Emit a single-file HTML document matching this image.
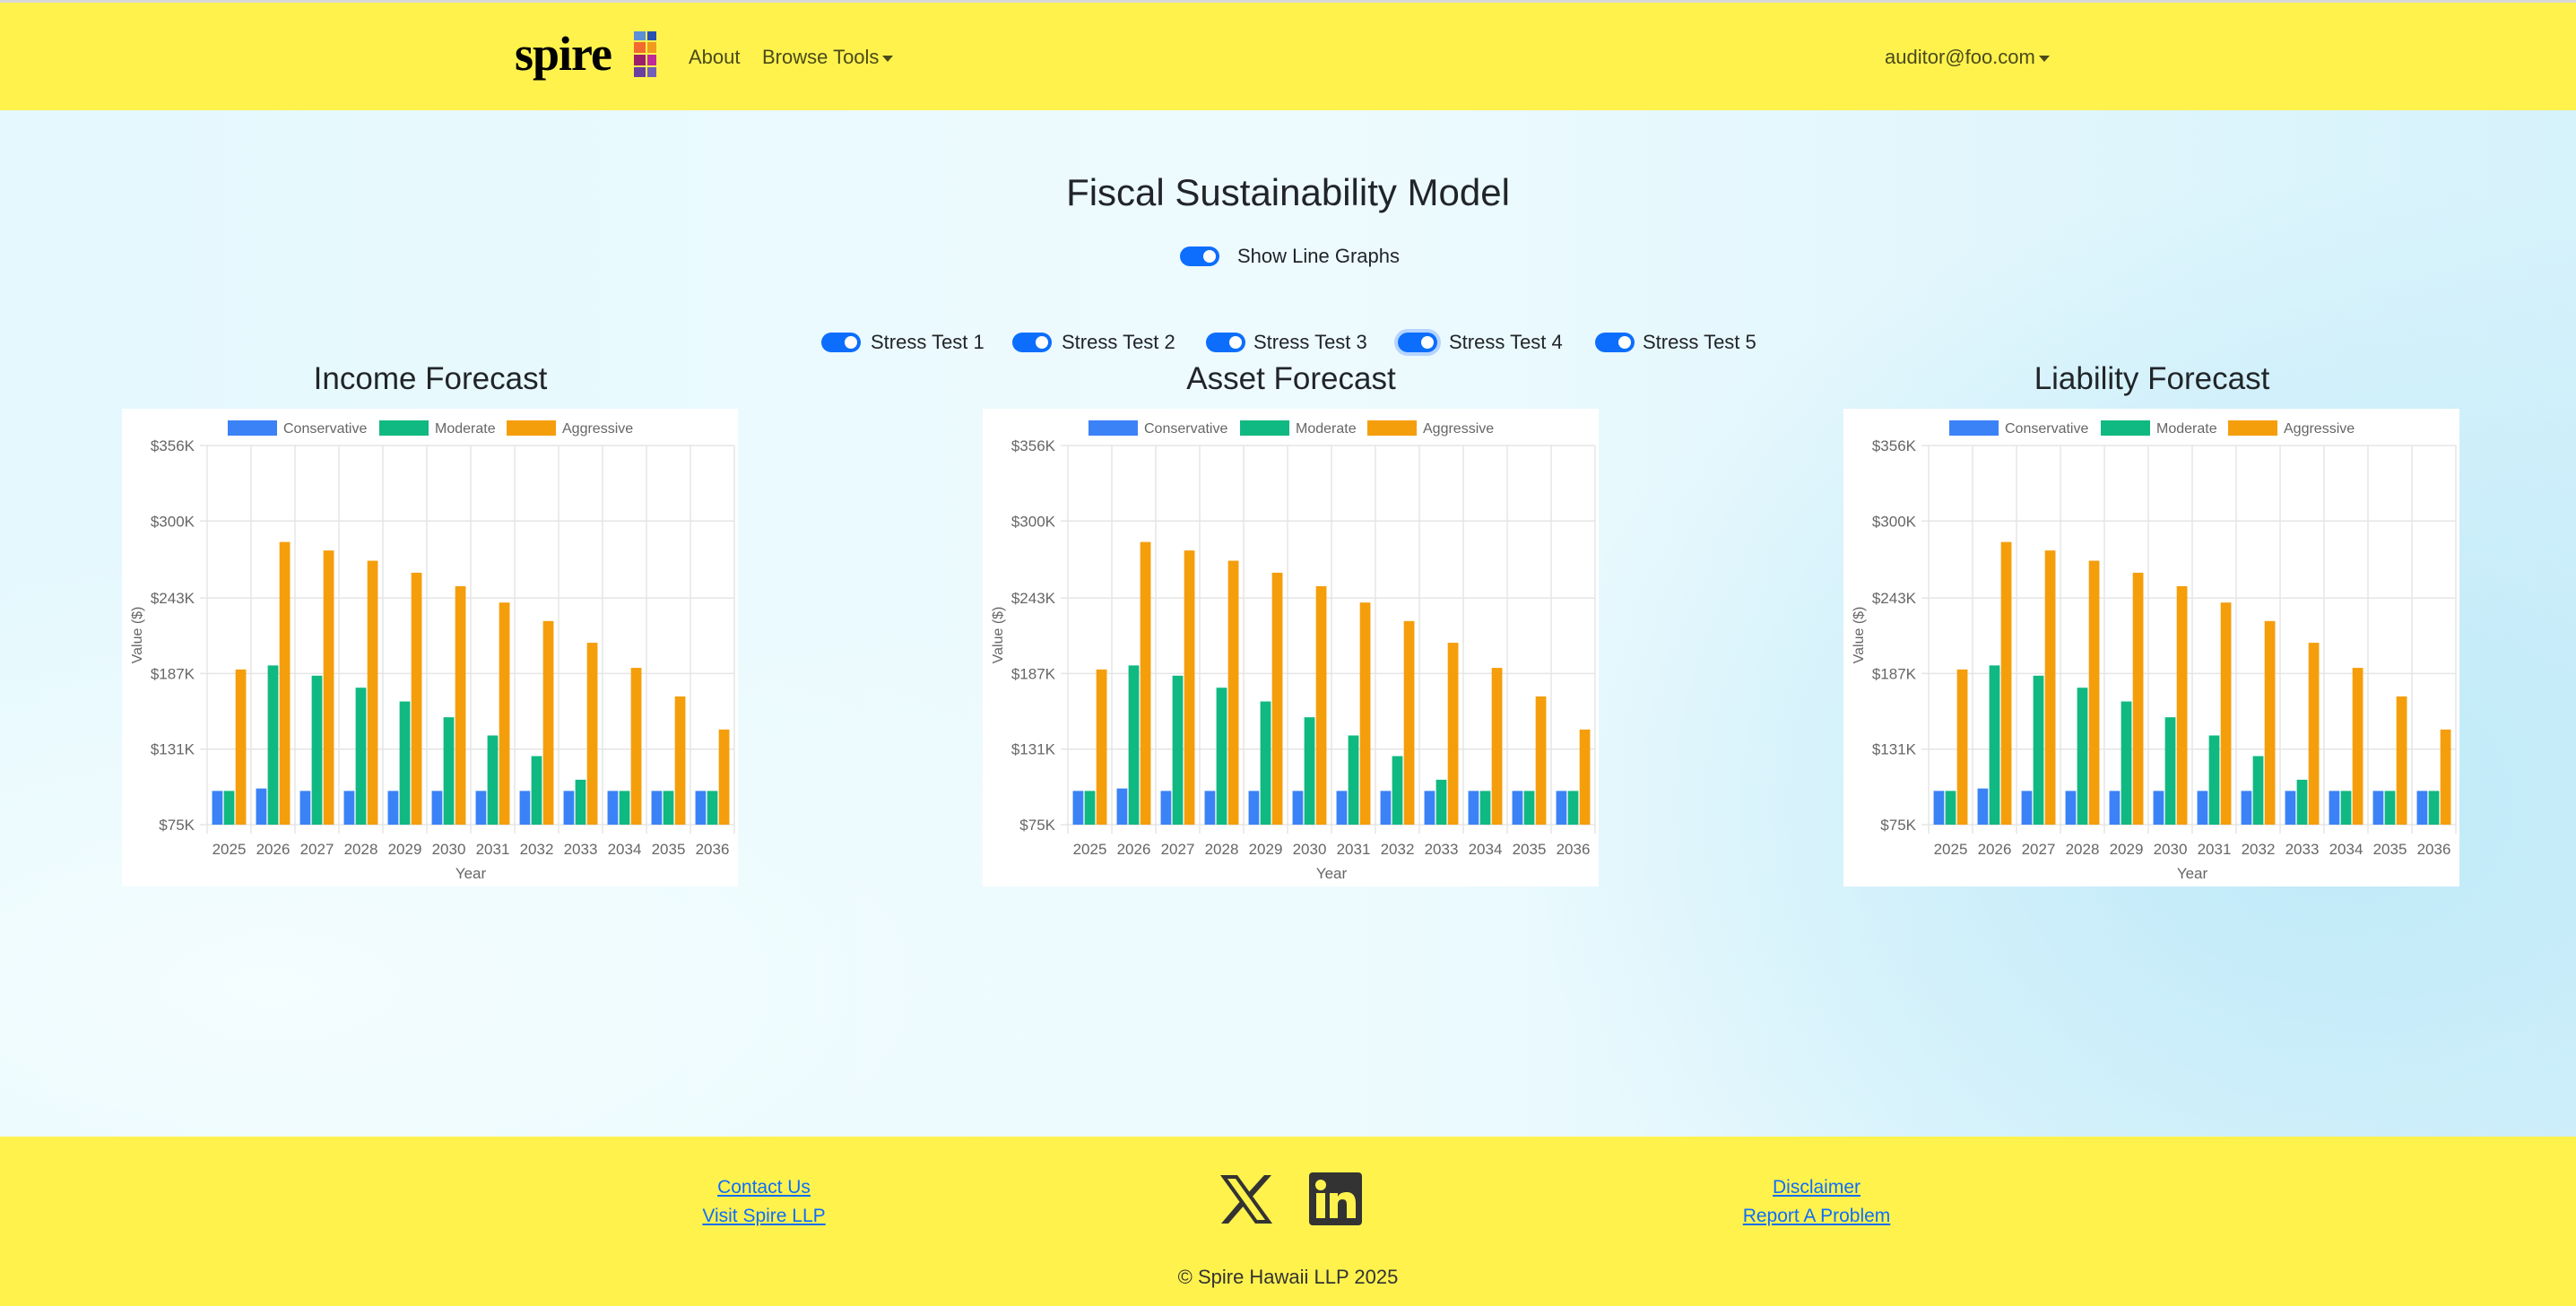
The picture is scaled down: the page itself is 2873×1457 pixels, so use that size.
<!DOCTYPE html>
<html><head><meta charset="utf-8">
<style>
*{box-sizing:border-box;margin:0;padding:0}
body{width:2873px;height:1457px;overflow:hidden;font-family:"Liberation Sans",sans-serif;color:#212529;position:relative;
background:radial-gradient(ellipse 900px 700px at 2600px 900px,#bfe9f8 0%,rgba(191,233,248,0) 100%),radial-gradient(ellipse 1200px 500px at 300px 1100px,#f4fdff 0%,rgba(244,253,255,0) 100%),linear-gradient(90deg,#e4f8fd 0%,#eefbfe 50%,#d6f2fb 100%)}
.abs{position:absolute}
#nav{left:0;top:0;width:2873px;height:123px;background:#fff24d;border-top:3px solid #d8d8d8}
#footer{left:0;top:1268px;width:2873px;height:189px;background:#fff24d}
.navlink{font-size:22px;color:#4a4a1a;top:48px}
.caret{display:inline-block;width:0;height:0;border-left:6px solid transparent;border-right:6px solid transparent;border-top:7px solid #4a4a1a;vertical-align:middle;margin-left:4px}
.toggle{width:44px;height:22px;border-radius:11px;background:#0d6efd}
.toggle::after{content:"";position:absolute;right:4px;top:4px;width:14px;height:14px;border-radius:50%;background:#fff}
.tlabel{font-size:22px;color:#212529}
.ctitle{font-size:35px;color:#212529;width:700px;text-align:center}
.card{background:#fff;width:687px;height:533px;top:456px}
.flink{font-size:21px;color:#0d6efd;text-decoration:underline;text-align:center;width:300px}
</style></head><body>
<div id="nav" class="abs">
  <div class="abs" style="left:574px;top:26px;font-family:'Liberation Serif',serif;font-weight:bold;font-size:54px;color:#000;letter-spacing:-1px">spire</div>
  <svg class="abs" style="left:707px;top:32px" width="30" height="52">
    <rect x="0" y="0" width="13" height="10" fill="#5b8fd6"/><rect x="15" y="0" width="10" height="10" fill="#2a4fb0"/>
    <rect x="0" y="12" width="13" height="12" fill="#f26a2e"/><rect x="15" y="12" width="10" height="12" fill="#f29a1e"/>
    <rect x="0" y="26" width="13" height="12" fill="#9b1f6a"/><rect x="15" y="26" width="10" height="12" fill="#c02a9a"/>
    <rect x="0" y="40" width="13" height="11" fill="#6b3fa0"/><rect x="15" y="40" width="10" height="11" fill="#7060b8"/>
  </svg>
  <div class="abs navlink" style="left:768px">About</div>
  <div class="abs navlink" style="left:850px">Browse Tools<span class="caret"></span></div>
  <div class="abs navlink" style="left:2102px">auditor@foo.com<span class="caret"></span></div>
</div>

<div class="abs" style="left:0;top:191px;width:2873px;text-align:center;font-size:42px">Fiscal Sustainability Model</div>
<div class="abs toggle" style="left:1316px;top:275px"></div>
<div class="abs tlabel" style="left:1380px;top:273px">Show Line Graphs</div>

<div class="abs toggle" style="left:916px;top:371px"></div>
<div class="abs tlabel" style="left:971px;top:369px">Stress Test 1</div>
<div class="abs toggle" style="left:1129px;top:371px"></div>
<div class="abs tlabel" style="left:1184px;top:369px">Stress Test 2</div>
<div class="abs toggle" style="left:1345px;top:371px"></div>
<div class="abs tlabel" style="left:1398px;top:369px">Stress Test 3</div>
<div class="abs toggle" style="left:1559px;top:371px;box-shadow:0 0 0 4px #b6d4fe"></div>
<div class="abs tlabel" style="left:1616px;top:369px">Stress Test 4</div>
<div class="abs toggle" style="left:1779px;top:371px"></div>
<div class="abs tlabel" style="left:1832px;top:369px">Stress Test 5</div>

<div class="abs ctitle" style="left:130px;top:403px">Income Forecast</div>
<div class="abs ctitle" style="left:1090px;top:403px">Asset Forecast</div>
<div class="abs ctitle" style="left:2050px;top:403px">Liability Forecast</div>

<div class="abs card" style="left:136px" id="c1"></div>
<div class="abs card" style="left:1096px" id="c2"></div>
<div class="abs card" style="left:2056px" id="c3"></div>

<div id="footer" class="abs">
  <div class="abs flink" style="left:702px;top:45px">Contact Us</div>
  <div class="abs flink" style="left:702px;top:77px">Visit Spire LLP</div>
  <div class="abs flink" style="left:1876px;top:45px">Disclaimer</div>
  <div class="abs flink" style="left:1876px;top:77px">Report A Problem</div>
  <svg class="abs" style="left:1360px;top:42px" width="60" height="56" viewBox="0 0 60 56">
    <path d="M1 1 H20 L59 55 H40 Z M9 5 L42 51 H51 L18 5 Z" fill="#333" fill-rule="evenodd"/>
    <path d="M50 1 H58 L35 27 L31 22 Z M2 55 H10 L29 33 L25 28 Z" fill="#333"/>
  </svg>
  <svg class="abs" style="left:1460px;top:40px" width="59" height="59" viewBox="0 0 59 59">
    <rect x="0" y="0" width="59" height="59" rx="4" fill="#333"/>
    <circle cx="13" cy="14" r="6" fill="#fff24d"/>
    <rect x="8" y="23" width="10" height="28" fill="#fff24d"/>
    <path d="M23 23 H32 V27 C34 23 38 22 42 22 C49 22 52 27 52 34 V51 H42 V36 C42 32 41 30 37 30 C34 30 32 32 32 36 V51 H23 Z" fill="#fff24d"/>
  </svg>
  <div class="abs" style="left:0;top:144px;width:2873px;text-align:center;font-size:22px;color:#333">© Spire Hawaii LLP 2025</div>
</div>

<script>
const categories=['2025','2026','2027','2028','2029','2030','2031','2032','2033','2034','2035','2036'];
const conservative=[100,101.8,100,100,100,100,100,100,100,100,100,100];
const moderate=[100,193,185.4,176.5,166.3,154.6,141.1,125.8,108.3,100,100,100];
const aggressive=[190,284.5,278.2,270.6,261.7,251.7,239.6,225.9,209.8,191.2,170,145.5];
const yTicks=[75,131,187,243,300,356];
const seriesNames=['Conservative','Moderate','Aggressive'];
const seriesColors=['#3b82f6','#10b981','#f59e0b'];
const yMin=75,yMax=356;
const NS='http://www.w3.org/2000/svg';
function mk(tag,attrs,parent){const e=document.createElementNS(NS,tag);for(const k in attrs)e.setAttribute(k,attrs[k]);parent.appendChild(e);return e;}
function draw(host,prefix){
  const W=687,H=533,L=95,R=683,T=41,B=464;
  const svg=mk('svg',{width:W,height:H},host);
  const y=v=>B-(v-yMin)/(yMax-yMin)*(B-T);
  const cw=(R-L)/categories.length;
  const x=i=>L+cw*i;
  yTicks.forEach(t=>{
    const g=mk('line',{x1:L-8,x2:R,y1:y(t),y2:y(t),stroke:'#e5e5e5','stroke-width':1.5},svg);
    
    
    const tx=mk('text',{x:L-14,y:y(t)+6,'text-anchor':'end','font-size':17,fill:'#666','font-family':'Liberation Sans, sans-serif'},svg);
    tx.textContent='$'+t+'K';
    
    
  });
  for(let i=0;i<=categories.length;i++){
    const g=mk('line',{x1:x(i),x2:x(i),y1:T,y2:B+10,stroke:'#e5e5e5','stroke-width':1.5},svg);
    
    
  }
  const all=[conservative,moderate,aggressive];
  const gw=cw*0.8,bw=gw/3*0.9;
  categories.forEach((c,i)=>{
    all.forEach((s,k)=>{
      const bx=x(i)+cw*0.1+gw/3*k+(gw/3-bw)/2;
      const r=mk('rect',{x:bx,y:y(s[i]),width:bw,height:B-y(s[i]),fill:seriesColors[k]},svg);
      
      
    });
    const tx=mk('text',{x:x(i)+cw/2,y:B+33,'text-anchor':'middle','font-size':17,fill:'#666','font-family':'Liberation Sans, sans-serif'},svg);
    tx.textContent=c;
    
    
  });
  const xt=mk('text',{x:(L+R)/2,y:524,'text-anchor':'middle','font-size':17,fill:'#666','font-family':'Liberation Sans, sans-serif'},svg);
  xt.textContent='Year';
  
  
  const yt=mk('text',{x:0,y:0,transform:'translate(22,'+(T+B)/2+') rotate(-90)','text-anchor':'middle','font-size':16,fill:'#666','font-family':'Liberation Sans, sans-serif'},svg);
  yt.textContent='Value ($)';
  
  
  const lx=[118,287,429];
  seriesNames.forEach((n,k)=>{
    const r=mk('rect',{x:lx[k],y:13,width:55,height:17,fill:seriesColors[k]},svg);
    
    
    const t=mk('text',{x:lx[k]+62,y:27,'font-size':16,fill:'#666','font-family':'Liberation Sans, sans-serif'},svg);
    t.textContent=n;
    
    
  });
}
draw(document.getElementById('c1'),'income');
draw(document.getElementById('c2'),'asset');
draw(document.getElementById('c3'),'liability');
</script>
</body></html>
